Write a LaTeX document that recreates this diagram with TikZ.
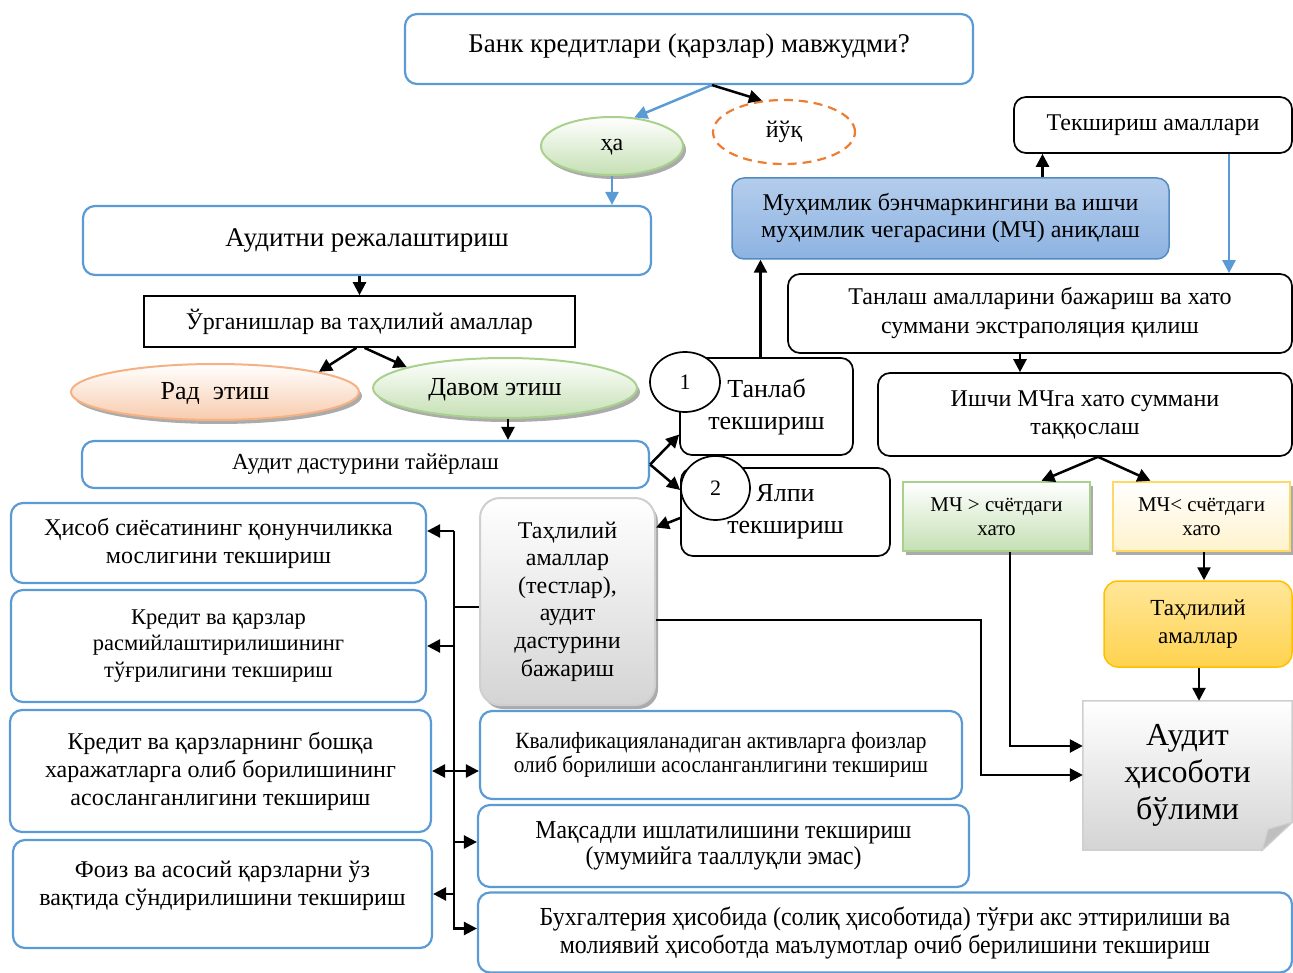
\documentclass[tikz,border=0pt]{standalone}
\usepackage{fontspec}
\setmainfont{Liberation Serif}
\newfontfamily\condfont{Liberation Serif}[FakeStretch=0.92]
\usetikzlibrary{arrows.meta,shapes.geometric,shadows,calc,backgrounds}
\definecolor{ublue}{HTML}{5B9BD5}
\definecolor{grnline}{HTML}{A9D18E}
\definecolor{grnfill}{HTML}{C5E0B4}
\definecolor{orline}{HTML}{F4B183}
\definecolor{orfill}{HTML}{F8CBAD}
\definecolor{dashor}{HTML}{ED7D31}
\definecolor{muhtop}{HTML}{B4CDEC}
\definecolor{muhbot}{HTML}{8DB3E2}
\definecolor{yelline}{HTML}{FFD966}
\definecolor{yelfill}{HTML}{FFF2CC}
\definecolor{goldtop}{HTML}{FFE699}
\definecolor{goldbot}{HTML}{FFD34F}
\definecolor{goldline}{HTML}{FFC000}
\definecolor{grayline}{HTML}{CFCFCF}
\definecolor{graybot}{HTML}{D4D4D4}
\newcommand{\fsz}[2]{\fontsize{#1}{#2}\selectfont}
\tikzset{
  >={Triangle[length=13pt,width=13pt]},
  base/.style={align=center, inner sep=2pt},
  bbox/.style={base, draw=ublue, line width=2.2pt, rounded corners=12pt, fill=white},
  kbox/.style={base, draw=black, line width=1.7pt, rounded corners=12pt, fill=white},
  sbox/.style={base, draw=black, line width=1.7pt, fill=white},
  arr/.style={draw=black, line width=2.5pt, ->},
  barr/.style={draw=ublue, line width=2.5pt, ->},
  bus/.style={draw=black, line width=2.5pt},
  ell/.style={ellipse, inner sep=0pt, line width=2pt},
  sh/.style={drop shadow={shadow xshift=3pt, shadow yshift=-4pt, fill=black!55, opacity=0.6}},
  greenfill/.style={draw=grnline, top color=white, bottom color=grnfill},
  circ/.style={ellipse, draw=black, fill=white, line width=1.7pt, inner sep=0pt, font=\fsz{22}{26}},
}
\begin{document}
\begin{tikzpicture}[x=1pt,y=-1pt]
\useasboundingbox (0,0) rectangle (1293,973);

% top part
\node[bbox, minimum width=568pt, minimum height=70pt, font=\fsz{27}{32}] (title) at (689,49) {Банк кредитлари (қарзлар) мавжудми?\\[-20pt]\mbox{}};
\node[ell, greenfill, sh, minimum width=142pt, minimum height=58pt, font=\fsz{24}{28}, text depth=2pt] (ha) at (612,146) {ҳа};
\node[ell, draw=dashor, line width=2.2pt, dash pattern=on 9pt off 6pt, minimum width=142pt, minimum height=64pt, font=\fsz{24}{28}] (yuk) at (784,132) {йўқ};

\node[bbox, minimum width=568pt, minimum height=69pt, font=\fsz{27}{32}] (plan) at (367,240.5) {Аудитни режалаштириш};
\node[sbox, minimum width=431pt, minimum height=51pt, font=\fsz{24}{28}] (urg) at (359.5,321.5) {Ўрганишлар ва таҳлилий амаллар};
\node[ell, draw=orline, top color=white, bottom color=orfill, sh, minimum width=288pt, minimum height=56pt, font=\fsz{26}{30}, text depth=2pt] (rad) at (215,392) {Рад\ \ этиш};
\node[ell, greenfill, sh, minimum width=264pt, minimum height=60pt, font=\fsz{26}{30}, text depth=2pt] (davom) at (505,388) {\hspace*{-20pt}Давом этиш};
\node[bbox, minimum width=567pt, minimum height=47pt, font=\fsz{23}{27}] (dastur) at (365.5,464.5) {Аудит дастурини тайёрлаш};

% middle
\node[kbox, minimum width=173pt, minimum height=97pt, font=\fsz{26}{32}] (tanlab) at (766.5,406.5) {Танлаб\\текшириш};
\node[circ, minimum width=70pt, minimum height=60pt] (c1) at (685,382) {1};
\node[kbox, minimum width=209pt, minimum height=88pt, font=\fsz{26}{32}] (yalpi) at (785.5,512) {Ялпи\\текшириш};
\node[circ, minimum width=69pt, minimum height=64pt] (c2) at (715.5,488) {2};

\node[base, draw=ublue!90!black, line width=1.5pt, rounded corners=12pt, top color=muhtop, bottom color=muhbot, minimum width=437pt, minimum height=81pt, font=\fsz{24}{27}] (muh) at (950.5,218.5) {Муҳимлик бэнчмаркингини ва ишчи\\муҳимлик чегарасини (МЧ) аниқлаш};
\node[kbox, minimum width=278pt, minimum height=56pt, font=\fsz{24}{28}] (tek) at (1153,125) {Текшириш амаллари};
\node[kbox, minimum width=504pt, minimum height=79pt, font=\fsz{24}{29}] (tanlash) at (1040,313.5) {Танлаш амалларини бажариш ва хато\\суммани экстраполяция қилиш};
\node[kbox, minimum width=414pt, minimum height=83pt, font=\fsz{24}{28}] (ishchi) at (1085,414.5) {Ишчи МЧга хато суммани\\таққослаш};
\node[base, greenfill, line width=2.5pt, sh, minimum width=187pt, minimum height=69pt, font=\fsz{21}{24}] (mcgt) at (996.5,516.5) {МЧ > счётдаги\\хато};
\node[base, draw=yelline, line width=2.5pt, top color=white, bottom color=yelfill, sh, minimum width=177pt, minimum height=69pt, font=\fsz{21}{24}] (mclt) at (1201.5,516.5) {МЧ< счётдаги\\хато};
\node[base, draw=goldline, line width=1.5pt, rounded corners=14pt, top color=goldtop, bottom color=goldbot, minimum width=188pt, minimum height=86pt, font=\fsz{23}{28}] (tahl2) at (1198,624) {Таҳлилий\\амаллар};
\node[base, minimum width=209pt, minimum height=149pt, font=\fsz{32}{37}] (rep) at (1187.5,775.5) {Аудит\\ҳисоботи\\бўлими};
\begin{scope}[on background layer]
  \fill[black!45, opacity=0.6, shift={(4,5)}] (rep.north west) -- (rep.north east) -- ([yshift=28pt]rep.south east) -- ([xshift=-30pt]rep.south east) -- (rep.south west) -- cycle;
  \path[draw=grayline, line width=1.5pt, top color=white, bottom color=graybot] (rep.north west) -- (rep.north east) -- ([yshift=28pt]rep.south east) -- ([xshift=-30pt]rep.south east) -- (rep.south west) -- cycle;
  \path[draw=grayline, line width=1pt, fill=black!25] ([yshift=28pt]rep.south east) -- ([xshift=-30pt]rep.south east) -- ([xshift=-24pt,yshift=21pt]rep.south east) -- cycle;
\end{scope}

\node[base, draw=grayline, line width=2pt, rounded corners=20pt, top color=white, bottom color=graybot, sh, minimum width=175pt, minimum height=207pt, font=\fsz{24}{27.6}] (tahl) at (567.5,601.5) {Таҳлилий\\амаллар\\(тестлар),\\аудит\\дастурини\\бажариш};

% left column
\node[bbox, minimum width=415pt, minimum height=80pt, font=\fsz{24}{28}] (hisob) at (218.5,543) {Ҳисоб сиёсатининг қонунчиликка\\мослигини текшириш};
\node[bbox, minimum width=415pt, minimum height=112pt, font=\fsz{22.5}{26.5}] (kredit) at (218.5,646) {Кредит ва қарзлар\\расмийлаштирилишининг\\тўғрилигини текшириш};
\node[bbox, minimum width=421pt, minimum height=122pt, font=\fsz{24}{28}] (kredit2) at (220.5,771) {Кредит ва қарзларнинг бошқа\\харажатларга олиб борилишининг\\асосланганлигини текшириш};
\node[bbox, minimum width=419pt, minimum height=108pt, font=\fsz{24}{28}] (foiz) at (222.5,894) {Фоиз ва асосий қарзларни ўз\\вақтида сўндирилишини текшириш\\[-6pt]\mbox{}};

% right of bus
\node[bbox, minimum width=482pt, minimum height=88pt, font=\condfont\fsz{23.2}{24}] (kval) at (721,755) {Квалификацияланадиган активларга фоизлар\\олиб борилиши асосланганлигини текшириш\\[-18pt]\mbox{}};
\node[bbox, minimum width=491pt, minimum height=82pt, font=\condfont\fsz{25.8}{26}] (maqs) at (723.5,846) {Мақсадли ишлатилишини текшириш\\(умумийга тааллуқли эмас)};
\node[bbox, minimum width=814pt, minimum height=80pt, font=\condfont\fsz{26}{28}] (buxg) at (885,932.5) {Бухгалтерия ҳисобида (солиқ ҳисоботида) тўғри акс эттирилиши ва\\молиявий ҳисоботда маълумотлар очиб берилишини текшириш};

% connectors
\coordinate (ts) at ([xshift=23pt]title.south);
\draw[barr] (ts) -- (ha.52);
\draw[arr] (ts) -- (yuk.125);
\draw[barr] (ha.south) -- (ha.south |- plan.north);
\draw[arr] (urg.north |- plan.south) -- (urg.north);
\draw[arr] ([xshift=-3pt]urg.south) -- (rad.11);
\draw[arr] ([xshift=5pt]urg.south) -- (davom.168);
\draw[arr] ([xshift=3pt]davom.south) -- ([xshift=3pt]davom.south |- dastur.north);
\draw[arr] (dastur.east) -- ([yshift=-28pt]tanlab.west);
\draw[arr] (dastur.east) -- ([yshift=22pt]yalpi.west);
\draw[arr] ([yshift=-6pt]yalpi.west) -- ([yshift=74pt]tahl.east);
\draw[arr] ([xshift=-6pt]tanlab.north) -- ([xshift=-6pt]tanlab.north |- muh.south);
\draw[arr] ([xshift=92pt]muh.north) -- ([xshift=92pt]muh.north |- tek.south);
\draw[barr] ([xshift=76pt]tek.south) -- ([xshift=76pt]tek.south |- tanlash.north);
\draw[arr] ([xshift=-20pt]tanlash.south) -- ([xshift=-20pt]tanlash.south |- ishchi.north);
\draw[arr] ([xshift=13pt]ishchi.south) -- ([xshift=45pt]mcgt.north);
\draw[arr] ([xshift=13pt]ishchi.south) -- ([xshift=-51pt]mclt.north);
\draw[arr] ([xshift=2.5pt]mclt.south) -- ([xshift=2.5pt]mclt.south |- tahl2.north);
\draw[arr] ([xshift=1pt]tahl2.south) -- ([xshift=1pt]tahl2.south |- rep.north);
\draw[arr] ([xshift=13.5pt]mcgt.south) |- ([yshift=29.5pt]rep.west);
\draw[arr] ([yshift=-18.5pt]tahl.east) -- ++(325,0) |- ([yshift=0.5pt]rep.west);

% bus tree
\coordinate (bt) at ($(tahl.west |- hisob.east)+(-25,-12)$);
\draw[bus] ([yshift=-5.5pt]tahl.west) -- ++(-25,0);
\draw[arr] (bt) -- ([yshift=12pt]hisob.east);
\draw[arr] (bt |- kredit.east) -- (kredit.east);
\draw[bus, <->] (kredit2.east) -- (kredit2.east -| kval.west);
\draw[arr] (bt |- foiz.east) -- (foiz.east);
\draw[arr] ([yshift=4pt]maqs.west -| bt) -- ([yshift=4pt]maqs.west);
\draw[arr] (bt) |- ([yshift=4pt]buxg.west);
\end{tikzpicture}
\end{document}
